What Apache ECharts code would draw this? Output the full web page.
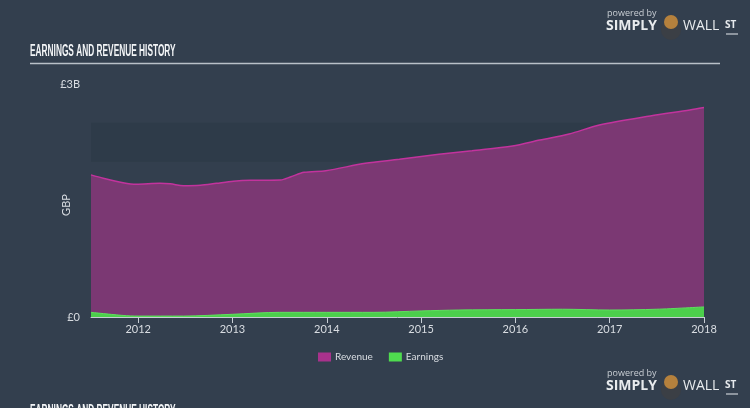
<!DOCTYPE html>
<html><head><meta charset="utf-8">
<script src="https://cdn.jsdelivr.net/npm/echarts@6/dist/echarts.min.js"></script>
<style>html,body{margin:0;padding:0;background:#333f4e}#c{width:750px;height:408px}</style>
</head><body><div id="c"></div>
<script>
// Decimal years and values in billions GBP
var revenueYears = [2011.5,2011.63,2011.84,2011.98,2012.23,2012.34,2012.48,2012.66,2012.83,2013.01,2013.19,2013.51,2013.62,2013.76,2013.99,2014.41,2014.77,2015.19,2015.54,2015.97,2016.26,2016.57,2016.89,2017.43,2017.85,2018.0];
var revenueValues = [1.83,1.786,1.729,1.709,1.721,1.716,1.69,1.696,1.721,1.747,1.76,1.764,1.806,1.863,1.884,1.979,2.03,2.095,2.141,2.202,2.279,2.356,2.472,2.588,2.665,2.697];
var earningsYears = [2011.5,2011.84,2012.0,2012.48,2013.0,2013.5,2014.0,2014.5,2015.0,2015.4,2016.0,2016.5,2017.0,2017.5,2018.0];
var earningsValues = [0.06,0.02,0.012,0.012,0.035,0.06,0.06,0.06,0.078,0.09,0.095,0.1,0.09,0.1,0.13];
var xTicks = [2012,2013,2014,2015,2016,2017,2018];
var yTicks = [0,3];
var bandRange = [2.0,2.5];

function pairs(xs, ys){ return xs.map(function(x,i){return [x, ys[i]];}); }

var chart = echarts.init(document.getElementById('c'), null, {renderer:'canvas'});
var txt = '#d9dde2';
var font = 'Lato';
var titleFont = 'bold 16px "Liberation Sans", Arial, sans-serif';

function logo(y0){
  return [
    {type:'text', left:607, top:y0+1, style:{text:'powered by', fill:'#c9ced4', font:'9px "Open Sans"'}},
    {type:'text', left:606, top:y0+11, style:{text:'SIMPLY', fill:'#e8ebee', font:'bold 14px "Open Sans"'}},
    {type:'circle', shape:{cx:671, cy:y0+22, r:10}, style:{fill:'#3b3f45'}},
    {type:'circle', shape:{cx:671, cy:y0+14, r:7}, style:{fill:'#b5813d'}},
    {type:'text', left:683, top:y0+11, style:{text:'WALL', fill:'#e8ebee', font:'14px "Open Sans"'}},
    {type:'text', left:725, top:y0+12, style:{text:'ST', fill:'#e8ebee', font:'bold 10px "Open Sans"'}},
    {type:'line', shape:{x1:726,y1:y0+26,x2:738,y2:y0+26}, style:{stroke:'#e8ebee', lineWidth:1}}
  ];
}

var graphics = [
  {type:'text', x:30, y:44, scaleX:0.52, style:{text:'EARNINGS AND REVENUE HISTORY', fill:'#f2f4f6', font:titleFont}},
  {type:'line', shape:{x1:30,y1:63.5,x2:720,y2:63.5}, style:{stroke:'#b9c0c8', lineWidth:1.5}},
  {type:'text', x:30, y:404, scaleX:0.52, style:{text:'EARNINGS AND REVENUE HISTORY', fill:'#f2f4f6', font:titleFont}},
  {type:'text', x:66, y:205, rotation:Math.PI/2, style:{text:'GBP', fill:txt, font:'11px '+font, align:'center', verticalAlign:'middle'}}
].concat(logo(8)).concat(logo(368));

chart.setOption({
  backgroundColor:'#333f4e',
  animation:false,
  grid:{left:91, right:46, top:84, bottom:91},
  legend:{
    data:['Revenue','Earnings'], bottom:41, left:313,
    itemWidth:13, itemHeight:9, itemGap:16,
    textStyle:{color:txt, fontSize:10, fontFamily:font, padding:[0,0,0,-1]},
    icon:'rect'
  },
  xAxis:{
    type:'value', min:2011.5, max:2018,
    axisLine:{show:true, lineStyle:{color:'#c8ced5', width:1}},
    axisTick:{show:true, customValues:xTicks, length:6, lineStyle:{color:'#c8ced5'}},
    axisLabel:{customValues:xTicks, color:txt, fontSize:11, fontFamily:font, margin:7, formatter:function(v){return String(Math.round(v));}},
    splitLine:{show:false}
  },
  yAxis:{
    type:'value', min:0, max:3, interval:3,
    axisLine:{show:false}, axisTick:{show:false},
    axisLabel:{color:txt, fontSize:11, fontFamily:font, margin:11, formatter:function(v){return v===0?'£0':'£'+v+'B';}},
    splitLine:{show:false}
  },
  series:[
    {name:'band', type:'line', data:[], z:0, silent:true,
     markArea:{silent:true, itemStyle:{color:'rgba(20,30,40,0.12)'}, data:[[{yAxis:bandRange[0]},{yAxis:bandRange[1]}]]}},
    {name:'Revenue', type:'line', data:pairs(revenueYears, revenueValues), smooth:0.3, symbol:'none', z:2,
     lineStyle:{color:'#c2339d', width:1.5}, itemStyle:{color:'#a8328c'},
     areaStyle:{color:'#7b3873', opacity:1}},
    {name:'Earnings', type:'line', data:pairs(earningsYears, earningsValues), smooth:0.3, symbol:'none', z:3,
     lineStyle:{color:'#5ee05e', width:1}, itemStyle:{color:'#4fdc4f'},
     areaStyle:{color:'#4ccf4c', opacity:1}}
  ],
  graphic:graphics
});
</script></body></html>
